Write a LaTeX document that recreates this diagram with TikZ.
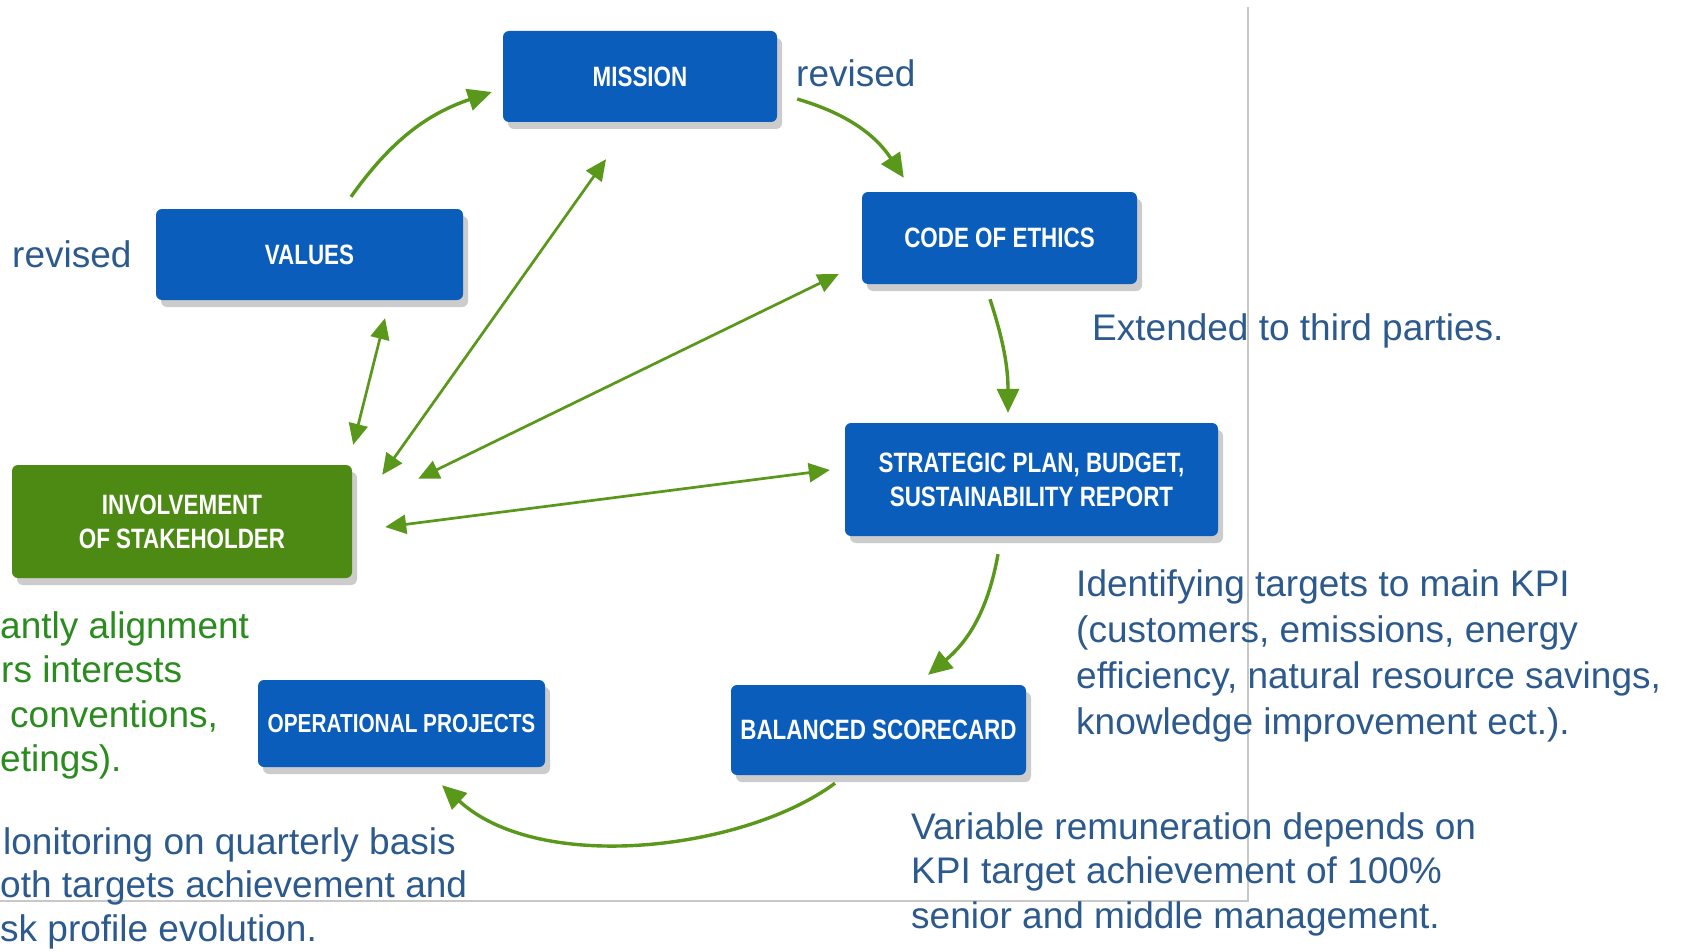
\documentclass[tikz,border=0pt]{standalone}
\usepackage{fontspec}
\setmainfont{Liberation Sans}
\newfontfamily\boxfont[FakeStretch=0.8]{Liberation Sans}
\usetikzlibrary{arrows.meta,shadows,calc}
\definecolor{boxblue}{HTML}{0B5DBB}
\definecolor{boxgreen}{HTML}{4D8A14}
\definecolor{arrowgreen}{HTML}{5A981C}
\definecolor{annoblue}{HTML}{2C5A8E}
\definecolor{annogreen}{HTML}{2A8C1E}
\definecolor{framegray}{HTML}{C8C8C8}
\begin{document}
\begin{tikzpicture}[x=1pt,y=-1pt,
  box/.style={draw=none, fill=boxblue, rounded corners=6pt, inner sep=0pt,
    align=center, text=white,
    font=\boxfont\bfseries\fontsize{28}{34}\selectfont,
    drop shadow={shadow xshift=5pt, shadow yshift=-7pt, opacity=0.4, fill=black!50}},
  gbox/.style={box, fill=boxgreen},
  cyc/.style={draw=arrowgreen, line width=3.4pt, -{Triangle[length=24pt,width=22pt]}},
  link/.style={draw=arrowgreen, line width=2.7pt,
    {Triangle[length=21pt,width=19pt]}-{Triangle[length=21pt,width=19pt]}},
  anno/.style={anchor=base west, align=left, text=annoblue, inner sep=0pt,
    font=\fontsize{37}{45}\selectfont},
  annog/.style={anno, text=annogreen},
  frame/.style={draw=framegray, line width=1.5pt}
]
\useasboundingbox (0,0) rectangle (1685,952);
\fill[white] (0,0) rectangle (1685,952);

% frame lines
\draw[frame] (1248,7) -- (1248,901) -- (0,901);

% boxes
\node[box, minimum width=274pt, minimum height=91pt] (mission) at (640,76.5) {MISSION};
\node[box, minimum width=307pt, minimum height=91pt] (values) at (309.5,254.5) {VALUES};
\node[box, minimum width=275pt, minimum height=92pt] (ethics) at (999.5,238) {CODE OF ETHICS};
\node[box, minimum width=373pt, minimum height=113pt] (strat) at (1031.5,479.5) {STRATEGIC PLAN, BUDGET,\\SUSTAINABILITY REPORT};
\node[gbox, minimum width=340pt, minimum height=113pt] (inv) at (182,521.5) {INVOLVEMENT\\OF STAKEHOLDER};
\node[box, minimum width=287pt, minimum height=87pt, font=\boxfont\bfseries\fontsize{26}{30}\selectfont] (oper) at (401.5,723.5) {OPERATIONAL PROJECTS};
\node[box, minimum width=295pt, minimum height=90pt] (bal) at (878.5,730) {BALANCED SCORECARD};

% cycle arrows
\draw[cyc] ([shift={(41.5,-12)}]values.north) to[bend left=18] ([shift={(-11,15.5)}]mission.west);
\draw[cyc] ([shift={(20,22.5)}]mission.east) to[bend left=20] ([shift={(42,-14)}]ethics.north west);
\draw[cyc] ([shift={(-9.5,15)}]ethics.south) to[bend left=9] ([shift={(-23.5,-10)}]strat.north);
\draw[cyc] ([shift={(-33.5,18)}]strat.south) to[bend left=20] ([shift={(49.5,-10)}]bal.north);
\draw[cyc] ([shift={(-43.5,8)}]bal.south) .. controls (745,850) and (540,875) .. ([shift={(40.5,18)}]oper.south);

% stakeholder links
\draw[link] ([shift={(1,-20)}]inv.north east) -- ([shift={(75.5,18)}]values.south);
\draw[link] ([shift={(30,10)}]inv.north east) -- ([shift={(-34,37)}]mission.south);
\draw[link] ([shift={(66,14)}]inv.north east) -- ([shift={(-23,36)}]ethics.west);
\draw[link] ([shift={(33,5.5)}]inv.east) -- ([shift={(-15,-9.5)}]strat.west);

% annotations (base anchor = baseline of the last line)
\node[anno] (rev1) at (796,87) {revised};
\node[anno] (rev2) at (12,267) {revised};
\node[anno] (ext) at (1092,340) {Extended to third parties.};
\node[anno, font=\fontsize{37}{46}\selectfont] (kpi) at (1076,734) {Identifying targets to main KPI\\(customers, emissions, energy\\efficiency, natural resource savings,\\knowledge improvement ect.).};
\node[anno, font=\fontsize{37}{44.5}\selectfont] (var) at (911,928) {Variable remuneration depends on\\KPI target achievement of 100\%\\senior and middle management.};
\node[annog] (g1) at (0,638) {antly alignment};
\node[annog] (g2) at (1,682) {rs interests};
\node[annog] (g3) at (10,727) {conventions,};
\node[annog] (g4) at (0,771) {etings).};
\node[anno] (m1) at (3,854) {lonitoring on quarterly basis};
\node[anno] (m2) at (0,897) {oth targets achievement and};
\node[anno] (m3) at (0,941) {sk profile evolution.};
\end{tikzpicture}
\end{document}
